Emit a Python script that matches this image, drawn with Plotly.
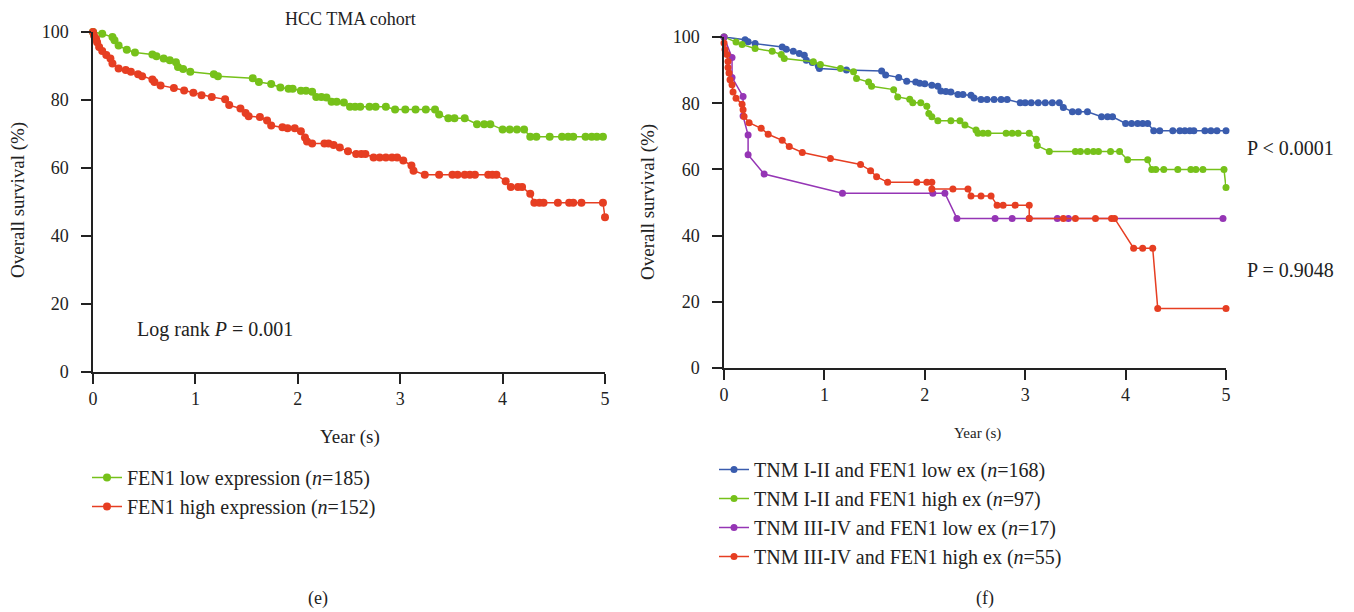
import plotly.graph_objects as go

# ---------------- data: panel (e) ----------------
e_low_x = [0, 0.09, 0.19, 0.21, 0.25, 0.33, 0.41, 0.58, 0.62, 0.69, 0.75, 0.81, 0.83, 0.88, 0.95,
           1.18, 1.22, 1.56, 1.62, 1.74, 1.83, 1.91, 1.95, 2.03, 2.08, 2.14, 2.18, 2.23, 2.28, 2.33, 2.38,
           2.45, 2.51, 2.56, 2.61, 2.70, 2.76, 2.86, 2.95, 3.05, 3.15, 3.25, 3.34, 3.38, 3.47, 3.53,
           3.63, 3.75, 3.82, 3.88, 4.00, 4.07, 4.14, 4.21, 4.27, 4.33, 4.46, 4.58, 4.64, 4.69, 4.81,
           4.87, 4.92, 4.98]
e_low_y = [100, 99.5, 98.5, 97.6, 96.0, 94.8, 94.0, 93.4, 92.9, 92.2, 91.7, 91.1, 89.7, 89.1, 88.3,
           87.6, 87.0, 86.4, 85.3, 84.7, 83.7, 83.3, 83.3, 82.7, 82.7, 82.4, 80.9, 80.9, 80.7, 79.5, 79.5,
           79.3, 78.0, 78.0, 78.0, 78.0, 78.0, 78.0, 77.2, 77.2, 77.2, 77.2, 77.2, 75.7, 74.6, 74.6,
           74.6, 72.9, 72.9, 72.9, 71.3, 71.3, 71.3, 71.3, 69.2, 69.2, 69.2, 69.2, 69.2, 69.2, 69.2,
           69.2, 69.2, 69.2]

e_high_x = [0, 0.01, 0.03, 0.04, 0.06, 0.09, 0.13, 0.17, 0.19, 0.25, 0.32, 0.37, 0.44, 0.48, 0.58,
            0.60, 0.66, 0.79, 0.89, 0.98, 1.06, 1.16, 1.29, 1.33, 1.44, 1.49, 1.52, 1.63, 1.70, 1.74,
            1.85, 1.90, 1.97, 2.03, 2.07, 2.09, 2.14, 2.26, 2.30, 2.35, 2.41, 2.49, 2.57, 2.62, 2.66,
            2.74, 2.80, 2.86, 2.92, 2.97, 3.03, 3.11, 3.13, 3.24, 3.38, 3.51, 3.56, 3.63, 3.68, 3.73,
            3.86, 3.90, 3.94, 4.03, 4.08, 4.15, 4.19, 4.27, 4.31, 4.36, 4.40, 4.54, 4.65, 4.69, 4.77,
            4.98, 5.0]
e_high_y = [100, 99.0, 98.0, 97.0, 95.6, 94.4, 93.2, 92.2, 90.7, 89.3, 88.8, 88.3, 87.6, 87.0, 86.0,
            85.3, 84.3, 83.5, 82.8, 82.1, 81.4, 80.9, 80.2, 78.5, 77.5, 76.2, 75.2, 75.0, 74.0, 72.5,
            72.0, 71.7, 71.7, 70.8, 69.0, 67.8, 67.2, 67.2, 67.2, 66.8, 66.0, 64.9, 64.1, 64.1, 64.1,
            63.1, 63.1, 63.1, 63.1, 63.1, 62.2, 60.7, 59.2, 58.0, 58.0, 58.0, 58.0, 58.0, 58.0, 58.0,
            58.0, 58.0, 58.0, 56.1, 54.4, 54.4, 54.4, 52.4, 49.8, 49.8, 49.8, 49.8, 49.8, 49.8, 49.8,
            49.8, 45.5]

# ---------------- data: panel (f) ----------------
f_blue_x = [0, 0.21, 0.24, 0.31, 0.58, 0.62, 0.69, 0.75, 0.80, 0.82, 0.88, 0.94, 0.95, 1.22, 1.57,
            1.61, 1.74, 1.82, 1.91, 1.95, 2.0, 2.07, 2.13, 2.16, 2.21, 2.26, 2.33, 2.38, 2.46, 2.49,
            2.56, 2.62, 2.69, 2.76, 2.82, 2.95, 3.00, 3.06, 3.13, 3.20, 3.27, 3.34, 3.38, 3.47, 3.53,
            3.62, 3.76, 3.82, 3.87, 4.00, 4.06, 4.12, 4.17, 4.22, 4.28, 4.34, 4.47, 4.54, 4.59, 4.64,
            4.68, 4.79, 4.85, 4.91, 5.0]
f_blue_y = [100, 99.2, 98.6, 98.0, 97.0, 96.3, 95.7, 95.0, 94.5, 93.0, 92.3, 91.2, 90.5, 90.0, 89.7,
            88.5, 87.8, 86.6, 86.4, 86.0, 85.9, 85.4, 85.1, 83.7, 83.5, 83.4, 82.6, 82.6, 82.4, 81.6,
            81.1, 81.1, 81.1, 81.1, 81.1, 80.1, 80.1, 80.1, 80.1, 80.1, 80.1, 80.1, 78.7, 77.4, 77.4,
            77.4, 75.9, 75.9, 75.9, 73.9, 73.9, 73.9, 73.9, 73.9, 71.7, 71.7, 71.7, 71.7, 71.7, 71.7,
            71.7, 71.7, 71.7, 71.7, 71.7]

f_green_x = [0, 0.12, 0.18, 0.31, 0.48, 0.57, 0.60, 0.89, 0.96, 1.16, 1.29, 1.32, 1.44, 1.47, 1.69,
             1.73, 1.85, 1.88, 1.96, 2.02, 2.04, 2.07, 2.13, 2.26, 2.35, 2.40, 2.51, 2.53, 2.58, 2.63,
             2.81, 2.87, 2.93, 3.04, 3.11, 3.12, 3.24, 3.50, 3.55, 3.62, 3.68, 3.73, 3.85, 3.94, 4.02,
             4.22, 4.26, 4.30, 4.38, 4.52, 4.65, 4.70, 4.77, 4.98, 5.0]
f_green_y = [100, 98.5, 97.7, 96.5, 95.7, 94.7, 93.5, 92.5, 91.7, 90.5, 89.5, 87.5, 86.4, 85.1, 84.1,
             81.9, 81.2, 80.1, 80.1, 79.1, 76.9, 75.9, 74.7, 74.7, 74.7, 73.4, 71.9, 70.9, 70.9, 70.9,
             70.9, 70.9, 70.9, 70.9, 69.1, 67.2, 65.4, 65.4, 65.4, 65.4, 65.4, 65.4, 65.4, 65.4, 62.9,
             62.9, 60.0, 60.0, 60.0, 60.0, 60.0, 60.0, 60.0, 60.0, 54.5]

f_purple_x = [0, 0.08, 0.08, 0.19, 0.19, 0.24, 0.24, 0.40, 1.18, 2.08, 2.20, 2.32, 2.70, 2.87, 3.04,
              3.32, 3.43, 4.97]
f_purple_y = [100, 93.8, 87.8, 82.0, 76.1, 70.4, 64.4, 58.6, 52.8, 52.8, 52.8, 45.2, 45.2, 45.2, 45.2,
              45.2, 45.2, 45.2]

f_red_x = [0, 0.01, 0.03, 0.04, 0.04, 0.05, 0.06, 0.08, 0.09, 0.12, 0.18, 0.19, 0.20, 0.25, 0.37,
           0.44, 0.58, 0.65, 0.78, 1.06, 1.36, 1.46, 1.52, 1.63, 1.92, 2.02, 2.07, 2.07, 2.28, 2.43,
           2.46, 2.56, 2.66, 2.72, 2.78, 2.90, 3.04, 3.04, 3.38, 3.50, 3.70, 3.86, 3.89, 4.08, 4.17,
           4.27, 4.32, 5.0]
f_red_y = [98.2, 96.2, 94.7, 92.6, 90.8, 89.1, 87.1, 85.6, 83.4, 81.5, 79.7, 78.0, 76.0, 74.1, 72.4,
           70.6, 68.8, 66.9, 65.1, 63.3, 61.5, 59.6, 57.8, 56.1, 56.1, 56.1, 56.1, 54.1, 54.1, 54.1,
           52.0, 52.0, 52.0, 49.2, 49.2, 49.2, 49.2, 45.2, 45.2, 45.2, 45.2, 45.2, 45.2, 36.2, 36.2,
           36.2, 18.0, 18.0]

x_ticks = [0, 1, 2, 3, 4, 5]
y_ticks = [0, 20, 40, 60, 80, 100]

GREEN = "#76C11A"
RED = "#E63E22"
BLUE = "#3A5CAE"
PURPLE = "#9535B5"
FONT = "Liberation Serif"
OFF = 8                      # page body margin of the browser
W, H = 1354 - OFF, 612 - OFF

def px(x):
    return (x - OFF) / W

def py(y):
    return 1 - (y - OFF) / H

fig = go.Figure()

fig.add_trace(go.Scatter(x=e_low_x, y=e_low_y, mode="lines+markers", name="FEN1 low expression (<i>n</i>=185)",
                         line=dict(color=GREEN, width=1.5), marker=dict(color=GREEN, size=8),
                         cliponaxis=False, xaxis="x", yaxis="y", legend="legend"))
fig.add_trace(go.Scatter(x=e_high_x, y=e_high_y, mode="lines+markers", name="FEN1 high expression (<i>n</i>=152)",
                         line=dict(color=RED, width=1.5), marker=dict(color=RED, size=8),
                         cliponaxis=False, xaxis="x", yaxis="y", legend="legend"))

for xs, ys, c, nm in [
    (f_blue_x, f_blue_y, BLUE, "TNM I-II and FEN1 low ex (<i>n</i>=168)"),
    (f_green_x, f_green_y, GREEN, "TNM I-II and FEN1 high ex (<i>n</i>=97)"),
    (f_purple_x, f_purple_y, PURPLE, "TNM III-IV and FEN1 low ex (<i>n</i>=17)"),
    (f_red_x, f_red_y, RED, "TNM III-IV and FEN1 high ex (<i>n</i>=55)"),
]:
    fig.add_trace(go.Scatter(x=xs, y=ys, mode="lines+markers", name=nm,
                             line=dict(color=c, width=1.5), marker=dict(color=c, size=7),
                             cliponaxis=False, xaxis="x2", yaxis="y2", legend="legend2"))

axis_common = dict(showgrid=False, zeroline=False, showline=True, linecolor="#222", linewidth=1.5,
                   ticks="outside", ticklen=10, tickwidth=1.5, tickcolor="#222", automargin=False,
                   tickfont=dict(family=FONT, size=18, color="#222"))

fig.update_layout(
    width=W, height=H,
    margin=dict(l=0, r=0, t=0, b=0, pad=0, autoexpand=False),
    paper_bgcolor="white", plot_bgcolor="white",
    font=dict(family=FONT, color="#222"),
    showlegend=True,
    xaxis=dict(domain=[px(93), px(605)], range=[0, 5], tickvals=x_ticks, anchor="y", **axis_common),
    yaxis=dict(domain=[py(372), py(32)], range=[0, 100], tickvals=y_ticks, anchor="x",
               ticklabelstandoff=9, **axis_common),
    xaxis2=dict(domain=[px(724), px(1226)], range=[0, 5], tickvals=x_ticks, anchor="y2", **axis_common),
    yaxis2=dict(domain=[py(368), py(37)], range=[0, 100], tickvals=y_ticks, anchor="x2",
                ticklabelstandoff=9, **axis_common),
    legend=dict(x=px(87), y=py(458), xanchor="left", yanchor="top", bgcolor="rgba(0,0,0,0)",
                font=dict(family=FONT, size=20, color="#222"), tracegroupgap=0, itemwidth=30),
    legend2=dict(x=px(714), y=py(450), xanchor="left", yanchor="top", bgcolor="rgba(0,0,0,0)",
                 font=dict(family=FONT, size=20, color="#222"), tracegroupgap=0, itemwidth=30),
)

ann = [
    dict(text="Log rank <i>P</i> = 0.001", x=px(215), y=py(330), size=20),
    dict(text="Year (s)", x=px(350), y=py(437), size=19),
    dict(text="Year (s)", x=px(977), y=py(433), size=15),
    dict(text="P &lt; 0.0001", x=px(1290), y=py(148), size=20),
    dict(text="P = 0.9048", x=px(1290), y=py(270), size=20),
    dict(text="(e)", x=px(318), y=py(598), size=18),
    dict(text="(f)", x=px(985), y=py(598), size=18),
]
annotations = [dict(text=a["text"], x=a["x"], y=a["y"], xref="paper", yref="paper", showarrow=False,
                    xanchor="center", yanchor="middle", font=dict(family=FONT, size=a["size"], color="#222"))
               for a in ann]
annotations.append(dict(text="HCC TMA cohort", x=px(350), y=1, xref="paper", yref="paper", showarrow=False,
                        xanchor="center", yanchor="top", borderpad=0,
                        font=dict(family=FONT, size=18, color="#222")))
annotations.append(dict(text="Overall survival (%)", x=px(18), y=py(200), xref="paper", yref="paper",
                        showarrow=False, textangle=-90, xanchor="center", yanchor="middle",
                        font=dict(family=FONT, size=19, color="#222")))
annotations.append(dict(text="Overall survival (%)", x=px(648), y=py(202), xref="paper", yref="paper",
                        showarrow=False, textangle=-90, xanchor="center", yanchor="middle",
                        font=dict(family=FONT, size=19, color="#222")))
fig.update_layout(annotations=annotations)

fig.write_html("out.html")
